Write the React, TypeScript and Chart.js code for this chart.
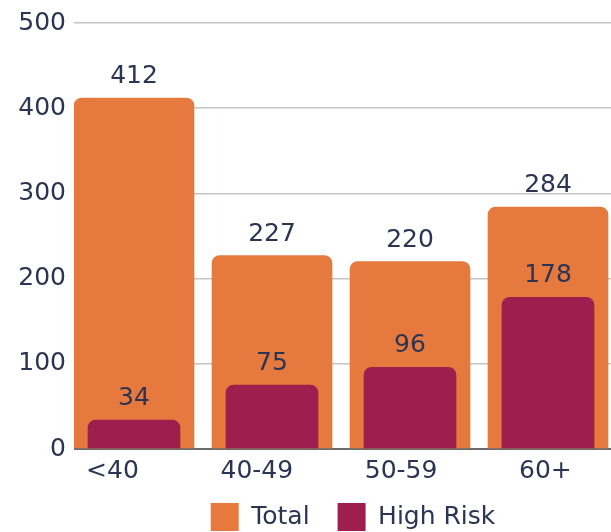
import { useEffect, useRef } from "react";
import { Chart, registerables } from "chart.js";

Chart.register(...registerables);

const categories = ["<40", "40-49", "50-59", "60+"];
const totalValues = [412, 227, 220, 284];
const highRiskValues = [34, 75, 96, 178];
const yTickValues = [0, 100, 200, 300, 400, 500];
const seriesNames = ["Total", "High Risk"];

const ORANGE = "#E67A3E";
const MAROON = "#9E1F4D";
const TEXT = "#2B3452";
const FONT = "'DejaVu Sans', sans-serif";
const FONT_SIZE = 25;

const CANVAS_W = 706;
const CANVAS_H = 541;

const valueLabels = {
  id: "valueLabels",
  afterDatasetsDraw(chart: any) {
    const ctx = chart.ctx;
    ctx.save();
    ctx.font = `${FONT_SIZE}px ${FONT}`;
    ctx.fillStyle = TEXT;
    ctx.textAlign = "center";
    ctx.textBaseline = "alphabetic";
    chart.data.datasets.forEach((ds: any, di: number) => {
      const meta = chart.getDatasetMeta(di);
      meta.data.forEach((el: any, i: number) => {
        const v = ds.data[i].y;
        ctx.fillText(String(v), el.x, el.y - 15);
      });
    });
    ctx.restore();
  },
};

export default function App() {
  const canvasRef = useRef<HTMLCanvasElement | null>(null);

  useEffect(() => {
    if (!canvasRef.current) return;
    const chart = new Chart(canvasRef.current, {
      type: "bar",
      data: {
        datasets: [
          {
            label: seriesNames[0],
            data: categories.map((_, i) => ({ x: i, y: totalValues[i] })),
            backgroundColor: ORANGE,
            borderRadius: 8,
            borderSkipped: "start",
            barThickness: 120,
            grouped: false,
            order: 1,
            xAxisID: "x",
          },
          {
            label: seriesNames[1],
            data: categories.map((_, i) => ({ x: i, y: highRiskValues[i] })),
            backgroundColor: MAROON,
            borderRadius: 8,
            borderSkipped: "start",
            barThickness: 92,
            grouped: false,
            order: 0,
            xAxisID: "x",
          },
        ] as any,
      },
      options: {
        animation: false,
        responsive: false,
        events: [],
        layout: { padding: { top: 20, left: 0, right: 0, bottom: 0 } },
        scales: {
          x: {
            type: "linear",
            display: false,
            offset: false,
            min: -0.4348,
            max: 4.1449,
          },
          xl: {
            type: "linear",
            position: "bottom",
            offset: false,
            min: -0.2668,
            max: 4.113,
            grid: { display: false, drawTicks: false },
            border: { display: false },
            afterBuildTicks: (scale: any) => {
              scale.ticks = categories.map((_, i) => ({ value: i }));
            },
            afterFit: (scale: any) => {
              scale.height = 26;
            },
            ticks: {
              mirror: true,
              padding: -37,
              autoSkip: false,
              maxRotation: 0,
              color: TEXT,
              font: { family: FONT, size: FONT_SIZE },
              callback: (v: any) => categories[Math.round(Number(v))] ?? "",
            },
          },
          y: {
            type: "linear",
            min: 0,
            max: 500,
            border: { display: false },
            grid: {
              drawTicks: false,
              color: (c: any) => (c.tick && c.tick.value === 0 ? "#6B6B6B" : "#C4C4C4"),
              lineWidth: (c: any) => (c.tick && c.tick.value === 0 ? 2 : 1.5),
            },
            afterBuildTicks: (scale: any) => {
              scale.ticks = yTickValues.map((v) => ({ value: v }));
            },
            afterFit: (scale: any) => {
              scale.width = 74;
            },
            ticks: {
              padding: 8,
              color: TEXT,
              font: { family: FONT, size: FONT_SIZE },
            },
          },
        } as any,
        plugins: {
          legend: {
            position: "bottom",
            labels: {
              boxWidth: 28,
              boxHeight: 28,
              padding: 28,
              color: TEXT,
              font: { family: FONT, size: FONT_SIZE },
              sort: (a: any, b: any) => a.datasetIndex - b.datasetIndex,
            },
          },
          tooltip: { enabled: false },
        },
      },
      plugins: [valueLabels],
    });
    return () => chart.destroy();
  }, []);

  return (
    <div
      style={{
        position: "fixed",
        left: 0,
        top: 0,
        width: 611,
        height: 532,
        overflow: "hidden",
        background: "#fff",
      }}
    >
      <canvas
        ref={canvasRef}
        width={CANVAS_W}
        height={CANVAS_H}
        style={{ display: "block", width: CANVAS_W, height: CANVAS_H }}
      />
    </div>
  );
}
